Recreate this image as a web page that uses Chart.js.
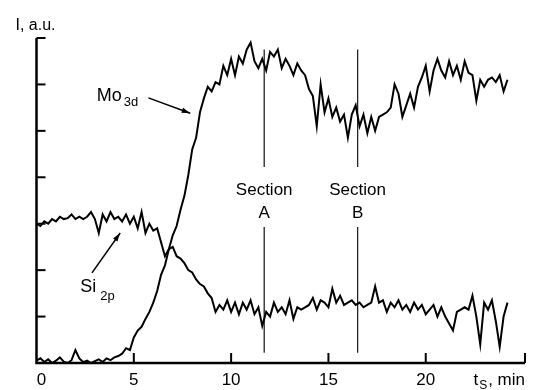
<!DOCTYPE html>
<html>
<head>
<meta charset="utf-8">
<script src="https://cdn.jsdelivr.net/npm/chart.js@4.4.0/dist/chart.umd.min.js"></script>
<style>
    body { margin: 0; background: #fff; }
    #graf { display: block; }
</style>
</head>
<body>
<canvas id="graf" width="542" height="390"></canvas>
<script>
// sputtering time, min
const casy = [
    0.0, 0.2, 0.4, 0.6, 0.8, 1.0, 1.2, 1.4, 1.6, 1.8,
    2.0, 2.2, 2.4, 2.6, 2.8, 3.0, 3.2, 3.4, 3.6, 3.8,
    4.0, 4.2, 4.4, 4.6, 4.8, 5.0, 5.2, 5.4, 5.6, 5.8,
    6.0, 6.2, 6.4, 6.6, 6.8, 7.0, 7.2, 7.4, 7.6, 7.8,
    8.0, 8.2, 8.4, 8.6, 8.8, 9.0, 9.2, 9.4, 9.6, 9.8,
    10.0, 10.2, 10.4, 10.6, 10.8, 11.0, 11.2, 11.4, 11.6, 11.8,
    12.0, 12.2, 12.4, 12.6, 12.8, 13.0, 13.2, 13.4, 13.6, 13.8,
    14.0, 14.2, 14.4, 14.6, 14.8, 15.0, 15.2, 15.4, 15.6, 15.8,
    16.0, 16.2, 16.4, 16.6, 16.8, 17.0, 17.2, 17.4, 17.6, 17.8,
    18.0, 18.2, 18.4, 18.6, 18.8, 19.0, 19.2, 19.4, 19.6, 19.8,
    20.0, 20.2, 20.4, 20.6, 20.8, 21.0, 21.2, 21.4, 21.6, 21.8,
    22.0, 22.2, 22.4, 22.6, 22.8, 23.0, 23.2, 23.4, 23.6, 23.8,
    24.0, 24.2
];

const mo3d = [
    0.05, 0.1, 0.02, 0.08, 0.0, 0.05, 0.12, 0.03, 0.0, 0.06,
    0.28, 0.1, 0.02, 0.05, 0.0, 0.04, 0.08, 0.02, 0.1, 0.06,
    0.12, 0.15, 0.2, 0.32, 0.28, 0.55, 0.7, 0.78, 0.95, 1.1,
    1.3, 1.55, 1.9, 2.1, 2.45, 2.75, 2.95, 3.3, 3.6, 4.05,
    4.6, 4.85, 5.4, 5.7, 5.95, 5.85, 6.05, 6.0, 6.4, 6.2,
    6.55, 6.2, 6.6, 6.45, 6.75, 6.9, 6.5, 6.35, 6.55, 6.3,
    6.7, 6.6, 6.75, 6.35, 6.55, 6.4, 6.2, 6.45, 6.3, 6.2,
    5.9, 5.75, 5.1, 6.0, 5.4, 5.7, 5.3, 5.5, 5.2, 5.35,
    4.85, 5.35, 5.55, 5.1, 5.35, 4.95, 5.3, 5.0, 5.3, 5.35,
    5.4, 5.5, 6.0, 5.8, 5.3, 5.55, 5.8, 5.5, 5.95, 6.15,
    6.4, 5.85, 6.3, 6.55, 6.3, 6.15, 6.5, 6.2, 6.4, 6.1,
    6.5, 6.25, 6.2, 5.65, 6.1, 5.95, 6.1, 6.15, 6.05, 6.2,
    5.85, 6.1
];

const si2p = [
    3.0, 2.95, 3.05, 3.0, 3.1, 3.05, 3.15, 3.1, 3.12, 3.2,
    3.1, 3.15, 3.1, 3.15, 3.25, 3.1, 2.8, 3.2, 3.05, 3.25,
    3.1, 3.15, 3.05, 3.2, 3.0, 3.15, 2.9, 3.25, 2.8, 3.0,
    2.85, 2.9, 2.6, 2.3, 2.45, 2.5, 2.3, 2.25, 2.15, 2.0,
    1.95, 1.8, 1.7, 1.65, 1.5, 1.4, 1.1, 1.25, 1.15, 1.35,
    1.1, 1.3, 1.05, 1.3, 1.15, 1.35, 1.05, 1.2, 0.8, 1.1,
    1.0, 1.3, 1.1, 1.2, 1.05, 1.35, 0.95, 1.2, 1.15, 1.2,
    1.25, 1.4, 1.15, 1.35, 1.3, 1.2, 1.6, 1.3, 1.45, 1.25,
    1.3, 1.35, 1.25, 1.3, 1.2, 1.25, 1.3, 1.65, 1.3, 1.35,
    1.1, 1.3, 1.2, 1.35, 1.15, 1.25, 1.1, 1.3, 1.15, 1.25,
    1.05, 1.15, 1.25, 1.0, 1.2, 1.0, 0.85, 0.7, 1.1, 1.15,
    1.2, 1.15, 1.45, 1.0, 0.4, 1.3, 1.15, 1.35, 0.9, 0.35,
    1.0, 1.3
];

// sections: name and time
const sekce = ['A', 'B'];
const sekceCas = [11.7, 16.5];

const xTicks = [0, 5, 10, 15, 20];
const yTicks = [1, 2, 3, 4, 5, 6, 7];

const FONT = "'Liberation Sans', Arial, sans-serif";

document.addEventListener('DOMContentLoaded', () => {
    vykresliGraf();
});

function body(xs, ys) {
    return xs.map((x, i) => ({ x: x, y: ys[i] }));
}

function sekceLine(cas) {
    // line broken where the label sits
    return [
        { x: cas, y: 6.75 }, { x: cas, y: 4.22 },
        { x: cas, y: null },
        { x: cas, y: 2.93 }, { x: cas, y: 0.22 }
    ];
}

function sipka(ctx, x1, y1, x2, y2) {
    const ang = Math.atan2(y2 - y1, x2 - x1);
    ctx.beginPath();
    ctx.moveTo(x1, y1);
    ctx.lineTo(x2, y2);
    ctx.stroke();
    ctx.beginPath();
    ctx.moveTo(x2, y2);
    ctx.lineTo(x2 - 9 * Math.cos(ang - 0.3), y2 - 9 * Math.sin(ang - 0.3));
    ctx.lineTo(x2 - 9 * Math.cos(ang + 0.3), y2 - 9 * Math.sin(ang + 0.3));
    ctx.closePath();
    ctx.fill();
}

const popisky = {
    id: 'popisky',
    afterDraw(chart) {
        const { ctx, chartArea, scales } = chart;
        const sx = scales.x, sy = scales.y;
        ctx.save();
        ctx.strokeStyle = '#000';
        ctx.fillStyle = '#000';

        // axes
        ctx.lineWidth = 2.5;
        ctx.beginPath();
        ctx.moveTo(chartArea.left, chartArea.top);
        ctx.lineTo(chartArea.left, chartArea.bottom);
        ctx.lineTo(chartArea.right, chartArea.bottom);
        ctx.stroke();

        ctx.lineWidth = 2;
        yTicks.forEach(v => {
            const y = sy.getPixelForValue(v);
            ctx.beginPath();
            ctx.moveTo(chartArea.left, y);
            ctx.lineTo(chartArea.left + 9, y);
            ctx.stroke();
        });
        xTicks.slice(1).concat([sx.max]).forEach(v => {
            const x = sx.getPixelForValue(v);
            ctx.beginPath();
            ctx.moveTo(x, chartArea.bottom);
            ctx.lineTo(x, chartArea.bottom - 10);
            ctx.stroke();
        });

        // tick labels
        ctx.font = '17px ' + FONT;
        ctx.textAlign = 'center';
        ctx.textBaseline = 'middle';
        xTicks.forEach(v => {
            const x = sx.getPixelForValue(v) + (v === 0 ? 5 : 0);
            ctx.fillText(String(v), x, chartArea.bottom + 17);
        });

        // x title
        ctx.textAlign = 'left';
        let tx = sx.getPixelForValue(22.45);
        const ty = chartArea.bottom + 17;
        ctx.fillText('t', tx, ty);
        tx += ctx.measureText('t').width + 1;
        ctx.font = '12px ' + FONT;
        ctx.fillText('S', tx, ty + 6);
        tx += ctx.measureText('S').width + 1;
        ctx.font = '17px ' + FONT;
        ctx.fillText(', min', tx, ty);

        // y title
        ctx.font = '16px ' + FONT;
        ctx.fillText('I, a.u.', chartArea.left - 21, chartArea.top - 12);

        // sections
        ctx.textAlign = 'center';
        sekce.forEach((s, i) => {
            const x = sx.getPixelForValue(sekceCas[i]);
            ctx.font = '17px ' + FONT;
            ctx.fillText('Section', x, sy.getPixelForValue(3.73));
            ctx.fillText(s, x, sy.getPixelForValue(3.23));
        });

        // Mo3d label
        ctx.textAlign = 'left';
        ctx.font = '18px ' + FONT;
        let mx = sx.getPixelForValue(3.1);
        const my = sy.getPixelForValue(5.75);
        ctx.fillText('Mo', mx, my);
        mx += ctx.measureText('Mo').width + 2;
        ctx.font = '13px ' + FONT;
        ctx.fillText('3d', mx, my + 6);
        ctx.lineWidth = 1.5;
        sipka(ctx, sx.getPixelForValue(5.75), sy.getPixelForValue(5.71),
            sx.getPixelForValue(7.9), sy.getPixelForValue(5.38));

        // Si2p label
        ctx.font = '18px ' + FONT;
        let six = sx.getPixelForValue(2.25);
        const siy = sy.getPixelForValue(1.63);
        ctx.fillText('Si', six, siy);
        six += ctx.measureText('Si').width + 4;
        ctx.font = '13px ' + FONT;
        ctx.fillText('2p', six, siy + 9);
        sipka(ctx, sx.getPixelForValue(2.85), sy.getPixelForValue(1.94),
            sx.getPixelForValue(4.3), sy.getPixelForValue(2.8));

        ctx.restore();
    }
};

function vykresliGraf() {
    const canvas = document.getElementById('graf');

    const datasets = [{
        label: 'Mo3d',
        data: body(casy, mo3d),
        borderColor: '#000',
        borderWidth: 2,
        pointRadius: 0,
        tension: 0,
        clip: false,
    }, {
        label: 'Si2p',
        data: body(casy, si2p),
        borderColor: '#000',
        borderWidth: 2,
        pointRadius: 0,
        tension: 0,
        clip: false,
    }];

    sekceCas.forEach((cas, i) => {
        datasets.push({
            label: 'Section ' + sekce[i],
            data: sekceLine(cas),
            borderColor: '#222',
            borderWidth: 1.3,
            pointRadius: 0,
            spanGaps: false,
        });
    });

    new Chart(canvas, {
        type: 'line',
        data: { datasets: datasets },
        options: {
            responsive: false,
            animation: false,
            layout: {
                padding: { left: 36.5, right: 17, top: 38, bottom: 27 }
            },
            plugins: {
                legend: { display: false },
                tooltip: { enabled: false }
            },
            scales: {
                x: { type: 'linear', min: 0, max: 25.1, display: false },
                y: { type: 'linear', min: 0, max: 7, display: false }
            }
        },
        plugins: [popisky]
    });
}
</script>
</body>
</html>
